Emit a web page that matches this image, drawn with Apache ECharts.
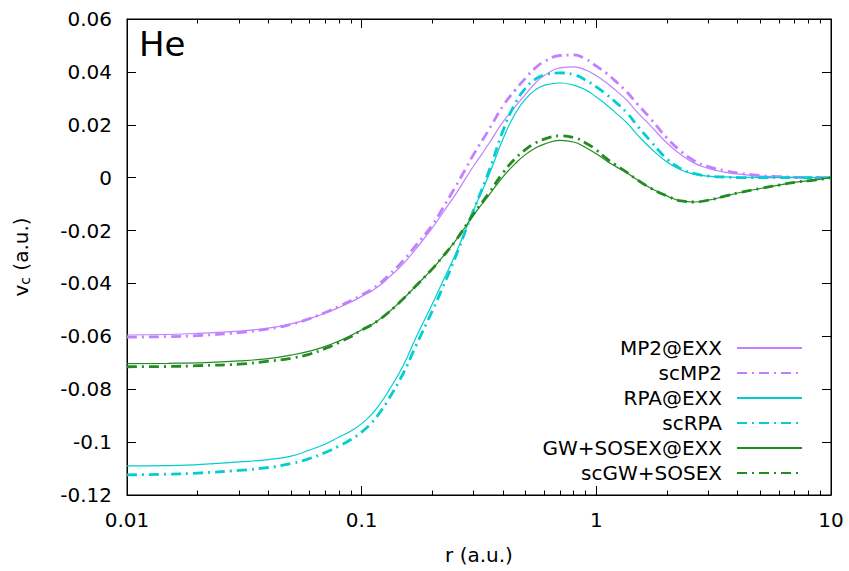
<!DOCTYPE html>
<html><head><meta charset="utf-8">
<script src="https://cdn.jsdelivr.net/npm/echarts@6/dist/echarts.min.js"></script>
<style>html,body{margin:0;padding:0;background:#fff}#c{width:849px;height:571px}</style>
</head><body><div id="c"></div>
<script>
// radial grid r (a.u.)
const r = [0.01, 0.015, 0.02, 0.03, 0.04, 0.05, 0.06, 0.07, 0.08, 0.09,
           0.1, 0.11, 0.12, 0.13, 0.15, 0.17, 0.2, 0.22, 0.25, 0.28,
           0.3, 0.35, 0.4, 0.45, 0.5, 0.55, 0.6, 0.7, 0.8, 0.9,
           1.0, 1.1, 1.2, 1.35, 1.5, 1.7, 2.0, 2.3, 2.6, 3,
           3.5, 4, 5, 6, 7, 8.5, 10];
const mp2Exx = [-0.0595, -0.0593, -0.0589, -0.0580, -0.0569, -0.0553, -0.0533, -0.0512, -0.0491, -0.0470,
                -0.0449, -0.0429, -0.0406, -0.0379, -0.0327, -0.0270, -0.0190, -0.0137, -0.0066, 0.0003,
                0.0044, 0.0131, 0.0211, 0.0267, 0.0316, 0.0358, 0.0386, 0.0415, 0.0419, 0.0407,
                0.0385, 0.0360, 0.0333, 0.0292, 0.0246, 0.0197, 0.0131, 0.0086, 0.0056, 0.0035,
                0.0021, 0.0014, 0.0006, 0.0003, 0.0002, 0.0001, 0.0];
const scMp2 = [-0.0603, -0.0601, -0.0597, -0.0586, -0.0572, -0.0555, -0.0533, -0.0510, -0.0487, -0.0465,
               -0.0444, -0.0423, -0.0398, -0.0370, -0.0315, -0.0257, -0.0179, -0.0120, -0.0037, 0.0040,
               0.0088, 0.0184, 0.0271, 0.0330, 0.0377, 0.0415, 0.0439, 0.0462, 0.0464, 0.0449,
               0.0422, 0.0396, 0.0367, 0.0324, 0.0277, 0.0224, 0.0150, 0.0099, 0.0065, 0.0042,
               0.0027, 0.0018, 0.0008, 0.0004, 0.0002, 0.0001, 0.0];
const rpaExx = [-0.1090, -0.1089, -0.1085, -0.1075, -0.1066, -0.1053, -0.1030, -0.1007, -0.0981, -0.0958,
                -0.0930, -0.0896, -0.0854, -0.0807, -0.0712, -0.0606, -0.0478, -0.0398, -0.0293, -0.0187,
                -0.0122, 0.0014, 0.0146, 0.0241, 0.0298, 0.0332, 0.0349, 0.0358, 0.0350, 0.0332,
                0.0305, 0.0277, 0.0248, 0.0207, 0.0161, 0.0112, 0.0059, 0.0029, 0.0014, 0.0006,
                0.0003, 0.00015, 0.00005, 0.0, 0.0, 0.0, 0.0];
const scRpa = [-0.1124, -0.1121, -0.1117, -0.1107, -0.1096, -0.1081, -0.1062, -0.1039, -0.1015, -0.0990,
               -0.0962, -0.0928, -0.0886, -0.0839, -0.0742, -0.0637, -0.0504, -0.0421, -0.0304, -0.0190,
               -0.0122, 0.0029, 0.0177, 0.0279, 0.0339, 0.0373, 0.0388, 0.0396, 0.0390, 0.0369,
               0.0343, 0.0316, 0.0288, 0.0245, 0.0195, 0.0139, 0.0071, 0.0033, 0.0016, 0.0006,
               0.00025, 0.00006, 0.00002, 0.0, 0.0, 0.0, 0.0];
const gwSosexExx = [-0.0703, -0.0702, -0.0700, -0.0693, -0.0684, -0.0671, -0.0656, -0.0638, -0.0618, -0.0597,
                    -0.0576, -0.0557, -0.0534, -0.0510, -0.0459, -0.0410, -0.0345, -0.0302, -0.0241, -0.0179,
                    -0.0141, -0.0064, 0.0003, 0.0052, 0.0088, 0.0112, 0.0127, 0.0141, 0.0135, 0.0114,
                    0.0090, 0.0065, 0.0044, 0.0018, -0.0009, -0.0039, -0.0069, -0.0088, -0.0092, -0.0085,
                    -0.0071, -0.0058, -0.0041, -0.0028, -0.0018, -0.0009, 0.0];
const scGwSosex = [-0.0715, -0.0714, -0.0711, -0.0705, -0.0694, -0.0683, -0.0667, -0.0646, -0.0623, -0.0601,
                   -0.0576, -0.0557, -0.0534, -0.0510, -0.0459, -0.0410, -0.0345, -0.0302, -0.0241, -0.0177,
                   -0.0137, -0.0056, 0.0018, 0.0071, 0.0107, 0.0131, 0.0146, 0.0158, 0.0152, 0.0131,
                   0.0105, 0.0074, 0.0050, 0.0020, -0.0009, -0.0039, -0.0069, -0.0088, -0.0092, -0.0085,
                   -0.0071, -0.0058, -0.0041, -0.0028, -0.0018, -0.0009, 0.0];

const seriesNames = ['MP2@EXX', 'scMP2', 'RPA@EXX', 'scRPA', 'GW+SOSEX@EXX', 'scGW+SOSEX'];
const seriesValues = [mp2Exx, scMp2, rpaExx, scRpa, gwSosexExx, scGwSosex];
const seriesColors = ['#c080ff', '#c080ff', '#00ced1', '#00ced1', '#228b22', '#228b22'];
const dashed = [false, true, false, true, false, true];

// minor tick positions (2..9 in each decade), in log10 space
const minorMultipliers = [2, 3, 4, 5, 6, 7, 8, 9];
const decades = [-2, -1, 0];
const minorTicks = [];
decades.forEach(d => minorMultipliers.forEach(m => minorTicks.push(d + Math.log10(m))));

const FONT = 'DejaVu Sans';
const chart = echarts.init(document.getElementById('c'), null, {renderer: 'svg'});

const series = seriesNames.map((name, i) => ({
  name: name,
  type: 'line',
  xAxisIndex: 0,
  yAxisIndex: 0,
  data: r.map((x, k) => [x, seriesValues[i][k]]),
  symbol: 'none',
  smooth: 0.5,
  lineStyle: {color: seriesColors[i], width: dashed[i] ? 2.8 : 1.2, type: dashed[i] ? [10, 5, 2, 5] : 'solid', cap: 'butt'},
  itemStyle: {color: seriesColors[i]},
  z: 2
}));

function tick(len, custom) {
  const t = {show: true, inside: true, length: len, lineStyle: {color: '#000', width: 1}};
  if (custom) t.customValues = custom;
  return t;
}
function axLine(show) {
  return {show: show, onZero: false, lineStyle: {color: '#000', width: 1}};
}

chart.setOption({
  animation: false,
  backgroundColor: '#fff',
  title: {text: 'He', left: 139, top: 27, padding: 0, textStyle: {fontFamily: FONT, fontSize: 34, fontWeight: 'normal', color: '#000'}},
  legend: {
    orient: 'vertical', align: 'right', right: 46, top: 338, padding: 0,
    itemWidth: 65, itemHeight: 20, itemGap: 5,
    itemStyle: {opacity: 0},
    textStyle: {fontFamily: FONT, fontSize: 20, color: '#000', lineHeight: 20, padding: [0, 10, 0, 0]},
    data: seriesNames
  },
  grid: {left: 127, right: 18, top: 19, bottom: 76, show: true, borderColor: '#000', borderWidth: 1},
  xAxis: [
    {type: 'log', logBase: 10, min: 0.01, max: 10, position: 'bottom',
     name: 'r (a.u.)', nameLocation: 'middle', nameGap: 50,
     nameTextStyle: {fontFamily: FONT, fontSize: 20, color: '#000'},
     axisLine: axLine(true),
     axisTick: tick(9),
     axisLabel: {fontFamily: FONT, fontSize: 20, color: '#000', margin: 15},
     splitLine: {show: false}, minorTick: {show: false}},
    {type: 'log', logBase: 10, min: 0.01, max: 10, position: 'top',
     axisLine: axLine(true),
     axisTick: tick(9), axisLabel: {show: false}, splitLine: {show: false}},
    {type: 'value', min: -2, max: 1, position: 'bottom',
     axisLine: axLine(false), axisLabel: {show: false}, splitLine: {show: false},
     axisTick: tick(4.5, minorTicks)},
    {type: 'value', min: -2, max: 1, position: 'top',
     axisLine: axLine(false), axisLabel: {show: false}, splitLine: {show: false},
     axisTick: tick(4.5, minorTicks)}
  ],
  yAxis: [
    {type: 'value', min: -0.12, max: 0.06, interval: 0.02, position: 'left',
     name: 'v{sub|c} (a.u.)', nameLocation: 'middle', nameGap: 95,
     nameTextStyle: {fontFamily: FONT, fontSize: 20, color: '#000',
       rich: {sub: {fontFamily: FONT, fontSize: 14, color: '#000', verticalAlign: 'bottom', padding: [8, 0, 0, 0]}}},
     axisLine: axLine(true),
     axisTick: tick(9),
     axisLabel: {fontFamily: FONT, fontSize: 20, color: '#000', margin: 15},
     splitLine: {show: false}},
    {type: 'value', min: -0.12, max: 0.06, interval: 0.02, position: 'right',
     axisLine: axLine(true),
     axisTick: tick(9), axisLabel: {show: false}, splitLine: {show: false}}
  ],
  series: series
});
</script>
</body></html>
